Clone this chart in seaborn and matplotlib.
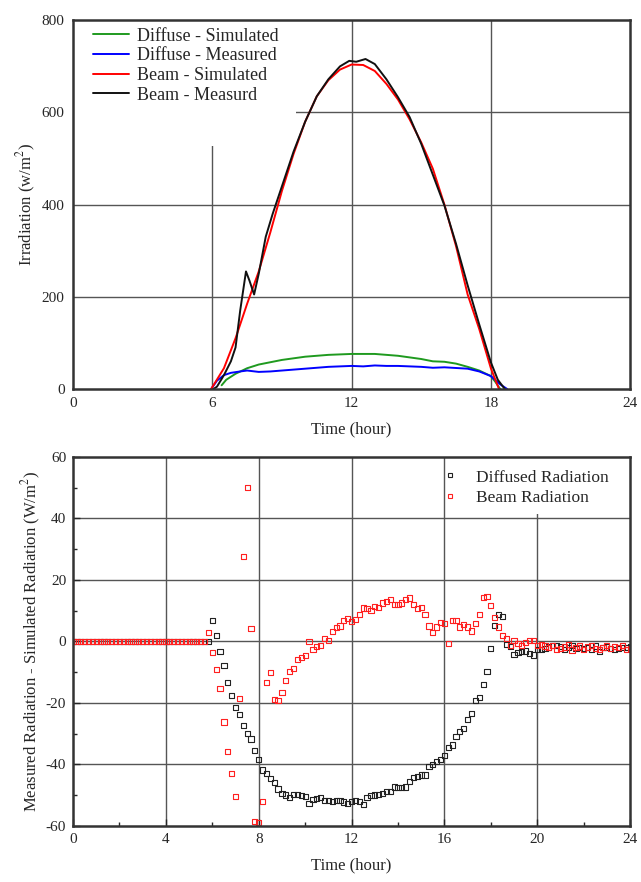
import numpy as np
import pandas as pd
import matplotlib
matplotlib.use("Agg")
import matplotlib.pyplot as plt
import seaborn as sns
from matplotlib.ticker import MultipleLocator
from matplotlib.patches import Rectangle

# ---- top panel: irradiation over the day ----
t_diff_sim = [6.4, 6.6, 7.0, 7.5, 8.0, 9.0, 10.0, 11.0, 12.0, 13.0, 14.0, 15.0, 15.5, 16.0,
              16.5, 17.0, 17.5, 18.0, 18.2, 18.4]
diff_sim = [8, 20, 33, 45, 53, 63, 70, 74, 76, 76, 72, 65, 60, 59, 55, 48, 40, 28, 15, 0]

t_diff_meas = [5.95, 6.2, 6.5, 6.8, 7.2, 7.5, 8.0, 8.5, 9.0, 10.0, 11.0, 12.0, 12.5, 13.0, 13.5,
               14.0, 14.5, 15.0, 15.5, 16.0, 17.0, 17.5, 18.0, 18.4, 18.7]
diff_meas = [0, 18, 30, 35, 38, 40, 37, 38, 40, 44, 48, 50, 49, 51, 50, 50, 49, 48, 46, 47, 44,
             38, 28, 10, 0]

t_beam_sim = [5.95, 6.5, 7.0, 7.5, 8.0, 8.5, 9.0, 9.5, 10.0, 10.5, 11.0, 11.5, 12.0, 12.5, 13.0,
              13.5, 14.0, 14.5, 15.0, 15.5, 16.0, 16.5, 17.0, 17.5, 18.0, 18.35]
beam_sim = [0, 45, 110, 185, 255, 340, 430, 510, 580, 635, 670, 693, 704, 703, 690, 662, 628,
            585, 535, 478, 400, 310, 205, 130, 45, 0]

t_beam_meas = [6.05, 6.2, 6.5, 6.8, 7.0, 7.2, 7.45, 7.6, 7.8, 8.0, 8.3, 8.6, 9.0, 9.5, 10.0, 10.5,
               11.0, 11.5, 11.9, 12.2, 12.6, 13.0, 13.5, 14.0, 14.5, 15.0, 15.5, 16.0, 16.5,
               17.0, 17.5, 18.0, 18.3, 18.6]
beam_meas = [0, 5, 30, 60, 90, 170, 255, 235, 205, 250, 330, 380, 440, 515, 580, 635, 672, 700,
             712, 710, 716, 705, 672, 633, 590, 532, 465, 398, 315, 225, 140, 58, 20, 0]

# ---- bottom panel: measured - simulated, 10-minute steps ----
n_steps = 145
diffused_err = [0.0] * 36 + [
    6.7, 1.8, -3.3, -7.9, -13.4, -17.5, -21.4, -23.8, -27.4, -29.9, -31.7, -35.4,
    -38.4, -41.8, -43.0, -44.5, -45.9, -48.0, -49.4, -49.9, -50.7, -49.7, -49.7, -50.2,
    -50.5, -52.7, -51.3, -51.0, -50.7, -51.6, -51.8, -52.0, -51.8, -51.8, -52.2, -52.6,
    -52.1, -51.8, -52.0, -53.1, -50.7, -50.2, -49.9, -49.7, -49.4, -48.9, -48.8, -47.3,
    -47.5, -47.5, -47.3, -45.6, -44.3, -44.0, -43.4, -43.4, -40.7, -40.0, -39.1, -38.4,
    -37.0, -34.6, -33.7, -30.9, -29.4, -28.3, -25.4, -23.3, -19.2, -18.2, -14.1, -9.8,
    -2.3, 5.3, 8.7, 8.2, -1.0, -1.7, -4.2, -3.7, -3.3, -3.1, -3.9, -4.4,
    -2.5, -2.5, -2.2, -1.8, -1.2, -1.3, -1.6, -2.5, -2.0, -1.4, -2.4, -2.1,
    -2.3, -1.9, -2.6, -1.5, -3.2, -2.0, -1.8, -2.2, -2.7, -2.4, -1.9, -2.1, -1.6]
beam_err = [0.0] * 35 + [
    2.8, -3.7, -9.0, -15.2, -26.2, -35.7, -43.0, -50.3, -18.6, 27.7, 50.0, 4.2,
    -58.5, -58.8, -52.0, -13.4, -10.1, -19.0, -19.2, -16.5, -12.8, -9.8, -8.7, -6.0,
    -5.3, -4.7, -0.1, -2.5, -1.7, -1.4, 1.0, 0.4, 3.3, 4.5, 5.0, 6.9,
    7.4, 6.6, 7.2, 8.7, 10.9, 10.7, 10.1, 11.4, 11.0, 12.5, 13.0, 13.7,
    12.1, 12.0, 12.5, 13.7, 14.1, 12.1, 10.7, 11.0, 8.8, 5.0, 2.9, 4.7,
    6.1, 5.8, -0.6, 6.9, 6.7, 4.7, 5.5, 4.7, 3.4, 5.8, 8.8, 14.2,
    14.7, 11.7, 7.8, 4.7, 2.0, 1.0, -1.2, 0.4, -0.6, -1.4, -0.3, 0.2,
    0.4, -1.2, -1.0, -1.5, -2.0, -1.2, -2.6, -2.3, -1.8, -1.0, -2.8, -2.0,
    -1.5, -2.5, -1.8, -1.2, -2.2, -2.7, -1.9, -1.3, -2.4, -1.6, -2.0, -1.4, -2.6, -2.2]
t_bottom = np.arange(n_steps) / 6.0

sns.set_style("white")
plt.rcParams['font.family'] = ['Liberation Serif', 'DejaVu Serif']
plt.rcParams['mathtext.fontset'] = 'stix'
plt.rcParams['axes.unicode_minus'] = False

fig = plt.figure(figsize=(6.41, 8.82), dpi=100)
ax1 = fig.add_axes([0.114, 0.559, 0.869, 0.418])
ax2 = fig.add_axes([0.114, 0.0635, 0.869, 0.4185])

# top panel
sns.lineplot(x=t_diff_sim, y=diff_sim, color='#1f9a1f', lw=1.4, label='Diffuse - Simulated', ax=ax1, sort=False)
sns.lineplot(x=t_diff_meas, y=diff_meas, color='#0000ff', lw=1.4, label='Diffuse - Measured', ax=ax1, sort=False)
sns.lineplot(x=t_beam_sim, y=beam_sim, color='#ff0000', lw=1.4, label='Beam - Simulated', ax=ax1, sort=False)
sns.lineplot(x=t_beam_meas, y=beam_meas, color='#111111', lw=1.4, label='Beam - Measurd', ax=ax1, sort=False)
ax1.set_xlim(0, 24)
ax1.set_ylim(0, 800)
ax1.set_xticks([0, 6, 12, 18, 24])
ax1.set_yticks([0, 200, 400, 600, 800])
for v in [6, 12, 18]:
    ax1.axvline(v, color='#555555', lw=1.0, zorder=0)
for v in [200, 400, 600]:
    ax1.axhline(v, color='#555555', lw=1.0, zorder=0)
# white block behind the legend hides the grid there
ax1.add_patch(Rectangle((0, 0.66), 0.40, 0.34, transform=ax1.transAxes,
                        facecolor='white', edgecolor='none', zorder=0.5))
ax1.tick_params(length=0, labelsize=11, pad=6)
ax1.set_xlabel('Time (hour)', fontsize=12, labelpad=8)
ax1.set_ylabel('Irradiation (w/m$^2$)', fontsize=12, labelpad=3)
ax1.legend(loc='upper left', fontsize=13, frameon=False, handlelength=2.0,
           handletextpad=0.45, labelspacing=0.15, borderaxespad=0.0,
           bbox_to_anchor=(0.022, 1.0))

# bottom panel
df = pd.DataFrame({'t': np.concatenate([t_bottom, t_bottom]),
                   'err': diffused_err + beam_err,
                   'kind': ['Diffused Radiation'] * n_steps + ['Beam Radiation'] * n_steps})
sns.scatterplot(data=df, x='t', y='err', hue='kind', palette={'Diffused Radiation': '#222222', 'Beam Radiation': '#ff2020'},
                marker='s', s=14, linewidth=0.8, ax=ax2, legend=False)
# open squares: edge colours follow hue
for coll in ax2.collections:
    fc = coll.get_facecolors()
    coll.set_edgecolors(fc)
    coll.set_facecolors('none')
ax2.set_xlim(0, 24)
ax2.set_ylim(-60, 60)
ax2.xaxis.set_major_locator(MultipleLocator(4))
ax2.xaxis.set_minor_locator(MultipleLocator(2))
ax2.yaxis.set_major_locator(MultipleLocator(20))
ax2.yaxis.set_minor_locator(MultipleLocator(10))
for v in [4, 8, 12, 16, 20]:
    ax2.axvline(v, color='#555555', lw=1.0, zorder=0)
for v in [-40, -20, 0, 20, 40]:
    ax2.axhline(v, color='#555555', lw=1.0, zorder=0)
ax2.add_patch(Rectangle((0.68, 0.845), 0.32, 0.155, transform=ax2.transAxes,
                        facecolor='white', edgecolor='none', zorder=0.5))
ax2.tick_params(which='major', direction='in', length=5, width=1, labelsize=11, pad=5,
                bottom=True, left=True)
ax2.tick_params(which='minor', direction='in', length=3, width=1, bottom=True, left=True)
ax2.set_xlabel('Time (hour)', fontsize=12, labelpad=8)
ax2.set_ylabel('Measured Radiation - Simulated Radiation (W/m$^2$)', fontsize=12, labelpad=2)
handles = [plt.Line2D([], [], ls='none', marker='s', ms=3.5, mfc='none', mec='#222222', mew=0.8),
           plt.Line2D([], [], ls='none', marker='s', ms=3.5, mfc='none', mec='#ff2020', mew=0.8)]
ax2.legend(handles, ['Diffused Radiation', 'Beam Radiation'], loc='upper right', fontsize=12.5,
           frameon=False, handlelength=1.0, handletextpad=1.0, labelspacing=0.25,
           borderaxespad=0.0, bbox_to_anchor=(0.975, 0.985))

for ax in (ax1, ax2):
    for sp in ax.spines.values():
        sp.set_color('#333333')
        sp.set_linewidth(1.8)

fig.savefig('out.png', dpi=100)
